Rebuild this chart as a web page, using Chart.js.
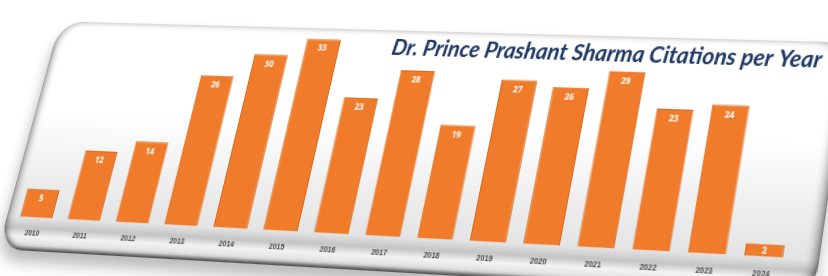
<!DOCTYPE html>
<html>
<head>
<meta charset="utf-8">
<script src="https://cdn.jsdelivr.net/npm/chart.js@4.4.1/dist/chart.umd.min.js"></script>
<style>
html, body { margin: 0; padding: 0; background: #fff; width: 828px; height: 276px; overflow: hidden; }
#panel {
    position: absolute; left: 0; top: 0; width: 798px; height: 218px;
    border-radius: 26px;
    background: linear-gradient(to bottom, #ffffff 0%, #ffffff 40%, #f0f0f0 65%, #e4e4e4 86%, #c4c4c4 90.5%, #f3f3f3 94%, #dedede 98%, #8c8c8c 100%);
    box-shadow: inset 6px 0 7px -3px rgba(0,0,0,0.35), inset -7px 0 8px -3px rgba(0,0,0,0.45), inset 0 -3px 4px -1px rgba(0,0,0,0.45), 0 10px 14px rgba(0,0,0,0.28);
    transform-origin: 0 0;
}
#panel canvas { position: absolute; left: 0; top: 0; }
</style>
</head>
<body>
<div id="panel"><canvas id="chart" width="798" height="218"></canvas></div>
<script>
const years = ['2010', '2011', '2012', '2013', '2014', '2015', '2016', '2017', '2018', '2019', '2020', '2021', '2022', '2023', '2024'];
const citations = [5, 12, 14, 26, 30, 33, 23, 28, 19, 27, 26, 29, 23, 24, 2];
const chartTitle = 'Dr. Prince Prashant Sharma Citations per Year';

const valueLabels = {
    id: 'valueLabels',
    afterDatasetsDraw(chart) {
        const ctx = chart.ctx;
        const meta = chart.getDatasetMeta(0);
        ctx.save();
        ctx.fillStyle = '#ffffff';
        ctx.font = 'bold 8px "Open Sans"';
        ctx.textAlign = 'center';
        ctx.textBaseline = 'middle';
        meta.data.forEach(function(bar, i) {
            const off = Math.min(9, (bar.base - bar.y) / 2);
            ctx.fillText(citations[i], bar.x, bar.y + off);
        });
        ctx.restore();
    }
};

const chart = new Chart(document.getElementById('chart'), {
    type: 'bar',
    data: {
        labels: years,
        datasets: [{
            data: citations,
            backgroundColor: '#ef7b2b',
            borderColor: '#dc6a1c',
            borderWidth: 1,
            categoryPercentage: 1,
            barPercentage: 0.68
        }]
    },
    options: {
        responsive: false,
        animation: false,
        layout: { padding: { left: 6, right: 24, top: 0, bottom: 2 } },
        plugins: {
            legend: { display: false },
            tooltip: { enabled: false },
            title: {
                display: true,
                text: chartTitle,
                align: 'end',
                color: '#1f3864',
                font: { family: 'Lato', size: 21.5, weight: 'bold', style: 'italic', lineHeight: 1.2 },
                padding: { top: 3, bottom: -24 }
            }
        },
        scales: {
            x: {
                grid: { display: false, drawTicks: false },
                border: { display: false },
                ticks: { color: '#484848', font: { size: 7, weight: 'bold' }, padding: 10, maxRotation: 0 }
            },
            y: { display: false, min: 0, max: 34 }
        }
    },
    plugins: [valueLabels]
});

// fit the flat panel onto the tilted card of the picture
function homography(src, dst) {
    const A = [];
    for (let i = 0; i < 4; i++) {
        const [x, y] = src[i], [X, Y] = dst[i];
        A.push([x, y, 1, 0, 0, 0, -X * x, -X * y, X]);
        A.push([0, 0, 0, x, y, 1, -Y * x, -Y * y, Y]);
    }
    for (let c = 0; c < 8; c++) {
        let p = c;
        for (let r = c + 1; r < 8; r++) if (Math.abs(A[r][c]) > Math.abs(A[p][c])) p = r;
        [A[c], A[p]] = [A[p], A[c]];
        for (let r = 0; r < 8; r++) {
            if (r === c) continue;
            const f = A[r][c] / A[c][c];
            for (let k = c; k < 9; k++) A[r][k] -= f * A[c][k];
        }
    }
    return A.map((row, i) => row[8] / row[i]);
}

const meta = chart.getDatasetMeta(0);
const firstBar = meta.data[0], lastBar = meta.data[meta.data.length - 1];
const xl = firstBar.x - firstBar.width / 2, xr = lastBar.x + lastBar.width / 2;
const yb = chart.scales.y.getPixelForValue(0), yt = chart.scales.y.getPixelForValue(33);
const h = homography(
    [[xl, yb], [xr, yb], [xr, yt], [xl, yt]],
    [[20, 217], [783, 258], [814, 53], [70, 32]]
);
document.getElementById('panel').style.transform =
    'matrix3d(' + [h[0], h[3], 0, h[6], h[1], h[4], 0, h[7], 0, 0, 1, 0, h[2], h[5], 0, 1].join(',') + ')';
</script>
</body>
</html>
